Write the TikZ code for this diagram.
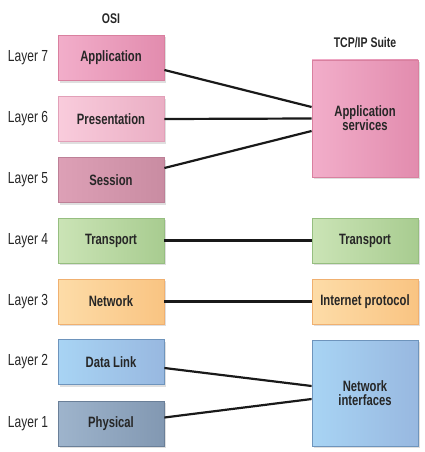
\documentclass[tikz,border=0pt]{standalone}
\usepackage{fontspec}
\setmainfont[FakeStretch=0.75]{Liberation Sans}
\usetikzlibrary{shadows}

\definecolor{appL}{HTML}{F2AECA}
\definecolor{appR}{HTML}{E28CAE}
\definecolor{appB}{HTML}{D9809F}
\definecolor{preL}{HTML}{F9CCDC}
\definecolor{preR}{HTML}{EAAEC4}
\definecolor{preB}{HTML}{E2A0B8}
\definecolor{sesL}{HTML}{DDA0B6}
\definecolor{sesR}{HTML}{C98CA2}
\definecolor{sesB}{HTML}{BD8097}
\definecolor{traL}{HTML}{CBE4B6}
\definecolor{traR}{HTML}{A8CC90}
\definecolor{traB}{HTML}{96BE80}
\definecolor{netL}{HTML}{FDDCA8}
\definecolor{netR}{HTML}{F9C482}
\definecolor{netB}{HTML}{F0B070}
\definecolor{dlL}{HTML}{A8D4F4}
\definecolor{dlR}{HTML}{98B8E0}
\definecolor{dlB}{HTML}{6E94BC}
\definecolor{phL}{HTML}{9EB4CC}
\definecolor{phR}{HTML}{8298B2}
\definecolor{phB}{HTML}{6A7F98}

\tikzset{
  layerbox/.style={draw=#1B, line width=0.8pt, minimum width=106pt, minimum height=45pt,
    left color=#1L, right color=#1R, font=\bfseries\fontsize{15}{16}\selectfont,
    text=black!85, align=center, inner sep=0pt,
    drop shadow={opacity=0.25, shadow xshift=1.5pt, shadow yshift=-2pt}},
  layerlbl/.style={font=\fontsize{16}{18}\selectfont, text=black!85},
  title/.style={font=\bfseries\fontsize{14}{16}\selectfont, text=black!85},
  link/.style={line width=2.2pt, black!90}
}

\begin{document}
\begin{tikzpicture}[x=1pt,y=-1pt]
        \useasboundingbox (0,0) rectangle (424,452);
        %% Titles
        \node[title] (osi) at (111,19) {OSI};
        \node[title] (tcpip) at (365,43) {TCP/IP Suite};
        %% OSI layers
        \node[layerbox=app] (app) at (111,58) {Application};
        \node[layerbox=pre] (pres) at (111,119) {Presentation};
        \node[layerbox=ses] (sess) at (111,180) {Session};
        \node[layerbox=tra] (trans) at (111,240.5) {Transport};
        \node[layerbox=net] (net) at (111,301.5) {Network};
        \node[layerbox=dl] (dlink) at (111,362) {Data Link};
        \node[layerbox=ph] (phys) at (111,423.5) {Physical};
        %% Layer numbers
        \node[layerlbl] (l7) at (28,58) {Layer 7};
        \node[layerlbl] (l6) at (28,119) {Layer 6};
        \node[layerlbl] (l5) at (28,180) {Layer 5};
        \node[layerlbl] (l4) at (28,240.5) {Layer 4};
        \node[layerlbl] (l3) at (28,301.5) {Layer 3};
        \node[layerlbl] (l2) at (28,362) {Layer 2};
        \node[layerlbl] (l1) at (28,423.5) {Layer 1};
        %% TCP/IP layers
        \node[layerbox=app, minimum height=117pt] (appsvc) at (365,118.5) {Application\\[-2pt]services};
        \node[layerbox=tra] (tcptrans) at (365,240.5) {Transport};
        \node[layerbox=net] (ip) at (365,301.5) {Internet protocol};
        \node[layerbox=dl, minimum height=106pt] (netif) at (365,393) {Network\\[-2pt]interfaces};
        %% Links
        \draw[link] ([yshift=-12pt]app.east) -- ([yshift=11.5pt]appsvc.west);
        \draw[link] (pres.east) -- (appsvc.west);
        \draw[link] ([yshift=12pt]sess.east) -- ([yshift=-12.5pt]appsvc.west);
        \draw[link] (trans.east) -- (tcptrans.west);
        \draw[link] (net.east) -- (ip.west);
        \draw[link] ([yshift=-6pt]dlink.east) -- ([yshift=7pt]netif.west);
        \draw[link] ([yshift=6pt]phys.east) -- ([yshift=-6pt]netif.west);
    \end{tikzpicture}
\end{document}
